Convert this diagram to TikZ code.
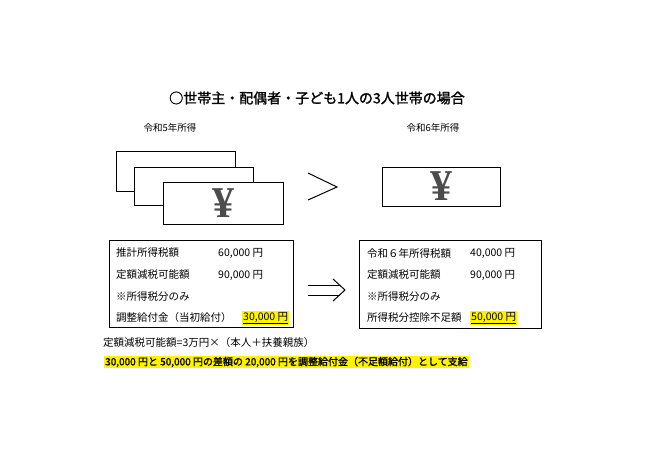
\documentclass[tikz,border=0pt]{standalone}
\usepackage{fontspec}
\setmainfont{Noto Sans CJK JP}
\newfontfamily\jpb[FakeBold=1.5]{Noto Sans CJK JP}
\newfontfamily\yenfont{Liberation Serif}
\begin{document}
\begin{tikzpicture}[x=1pt,y=-1pt,
  bx/.style={draw,line width=0.7pt,fill=white},
  tx/.style={anchor=west,inner sep=0pt,font=\fontsize{10.5}{12}\selectfont},
  yen/.style={font=\yenfont\bfseries\fontsize{44}{44}\selectfont\color{black!70}},
  hl/.style={fill=yellow,inner sep=1pt},
  sym/.style={line width=1pt,line join=miter}]
\useasboundingbox[fill=white] (0,0) rectangle (650,458);
\node[font=\jpb\fontsize{14}{16}\selectfont] (title) at (317,98) {○世帯主・配偶者・子ども1人の3人世帯の場合};
\node[font=\fontsize{9.5}{11}\selectfont] (y5) at (170,128) {令和5年所得};
\node[font=\fontsize{9.5}{11}\selectfont] (y6) at (433,128) {令和6年所得};
\draw[bx] (116,151) rectangle (235,191);
\draw[bx] (134,167) rectangle (253,205);
\draw[bx] (163,182) rectangle (283,224);
\node[yen] (yen1) at (223,203) {¥};
\draw[sym] (308,173) -- (337,187) -- (308,200);
\draw[bx] (382,167) rectangle (500,206);
\node[yen] (yen2) at (441,186) {¥};
\draw[bx] (109,240) rectangle (293,327);
\node[tx] (a1) at (116,253) {推計所得税額};
\node[tx] (a1v) at (218,253) {60,000 円};
\node[tx] (a2) at (116,275) {定額減税可能額};
\node[tx] (a2v) at (218,275) {90,000 円};
\node[tx] (a3) at (116,297) {※所得税分のみ};
\node[tx] (a4) at (116,318) {調整給付金（当初給付）};
\node[tx,hl,anchor=west] (a4v) at (242,318) {\underline{30,000 円}};
\draw[sym] (308,285) -- (340,285) (308,295) -- (340,295);
\draw[sym] (333,279) -- (345,290) -- (333,301);
\draw[bx] (359,240) rectangle (541,328);
\node[tx] (b1) at (367,253) {令和６年所得税額};
\node[tx] (b1v) at (470,253) {40,000 円};
\node[tx] (b2) at (367,275) {定額減税可能額};
\node[tx] (b2v) at (470,275) {90,000 円};
\node[tx] (b3) at (367,297) {※所得税分のみ};
\node[tx] (b4) at (367,318) {所得税分控除不足額};
\node[tx,hl] (b4v) at (470,318) {\underline{50,000 円}};
\node[tx] (note) at (103,343) {定額減税可能額=3万円×（本人＋扶養親族）};
\node[tx,hl,font=\jpb\fontsize{10}{12}\selectfont] (sum) at (104,362) {30,000 円と 50,000 円の差額の 20,000 円を調整給付金（不足額給付）として支給};
\end{tikzpicture}
\end{document}
